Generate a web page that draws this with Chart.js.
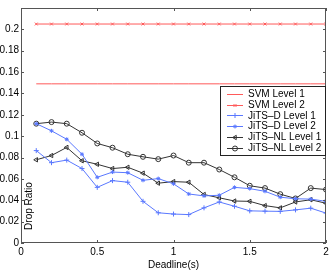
<!DOCTYPE html>
<html>
<head>
<meta charset="utf-8">
<script src="https://cdn.jsdelivr.net/npm/chart.js@4.4.1/dist/chart.umd.min.js"></script>
<style>
  html, body { margin: 0; padding: 0; background: #fff; }
  #wrap { width: 333px; height: 271px; position: relative; }
</style>
</head>
<body>
<div id="wrap"><canvas id="chart"></canvas></div>
<script>
// deadlines (s)
const deadlines = [0.1, 0.2, 0.3, 0.4, 0.5, 0.6, 0.7, 0.8, 0.9, 1.0, 1.1, 1.2, 1.3, 1.4, 1.5, 1.6, 1.7, 1.8, 1.9, 2.0];

// drop ratios
const svmLevel1 = [0.149, 0.149, 0.149, 0.149, 0.149, 0.149, 0.149, 0.149, 0.149, 0.149, 0.149, 0.149, 0.149, 0.149, 0.149, 0.149, 0.149, 0.149, 0.149, 0.149];
const svmLevel2 = [0.205, 0.205, 0.205, 0.205, 0.205, 0.205, 0.205, 0.205, 0.205, 0.205, 0.205, 0.205, 0.205, 0.205, 0.205, 0.205, 0.205, 0.205, 0.205, 0.205];
const jitsDLevel1 = [0.0865, 0.0752, 0.0776, 0.0697, 0.0521, 0.0584, 0.0569, 0.0390, 0.0283, 0.0271, 0.0266, 0.0329, 0.0384, 0.0344, 0.0301, 0.0298, 0.0296, 0.0310, 0.0326, 0.0280];
const jitsDLevel2 = [0.1117, 0.1050, 0.0971, 0.0831, 0.0615, 0.0664, 0.0658, 0.0587, 0.0603, 0.0554, 0.0459, 0.0441, 0.0447, 0.0521, 0.0509, 0.0484, 0.0429, 0.0414, 0.0411, 0.0390];
const jitsNLLevel1 = [0.0779, 0.0819, 0.0895, 0.0770, 0.0737, 0.0697, 0.0709, 0.0654, 0.0560, 0.0575, 0.0569, 0.0454, 0.0423, 0.0393, 0.0390, 0.0350, 0.0329, 0.0384, 0.0405, 0.0372];
const jitsNLLevel2 = [0.1117, 0.1132, 0.1117, 0.1032, 0.0932, 0.0892, 0.0831, 0.0807, 0.0785, 0.0819, 0.0752, 0.0752, 0.0688, 0.0615, 0.0536, 0.0514, 0.0457, 0.0417, 0.0514, 0.0500];

const xTicks = [0, 0.5, 1, 1.5, 2];
const seriesLabels = ["SVM Level 1", "SVM Level 2", "JiTS\u2013D Level 1", "JiTS\u2013D Level 2", "JiTS\u2013NL Level 1", "JiTS\u2013NL Level 2"];

const FONT = "'Liberation Sans', Arial, Helvetica, sans-serif";
const RED = "#ff5a5a";
const BLUE = "#5a78ff";
const DARK = "#333333";

function pts(values) {
  return deadlines.map((d, i) => ({ x: d, y: values[i] }));
}

function makeSet(label, values, color, style, radius, rotation) {
  return {
    label: label,
    data: pts(values),
    borderColor: color,
    backgroundColor: style === "star" ? color : "rgba(0,0,0,0)",
    borderWidth: 1,
    pointStyle: style || false,
    pointRadius: style ? radius : 0,
    pointRotation: rotation || 0,
    pointBorderColor: color,
    pointBorderWidth: 1,
    tension: 0,
    fill: false,
  };
}

const datasets = [
  makeSet(seriesLabels[0], svmLevel1, RED, null, 0),
  makeSet(seriesLabels[1], svmLevel2, RED, "crossRot", 2),
  makeSet(seriesLabels[2], jitsDLevel1, BLUE, "cross", 2.5),
  makeSet(seriesLabels[3], jitsDLevel2, BLUE, "star", 2),
  makeSet(seriesLabels[4], jitsNLLevel1, DARK, "triangle", 2.5, -90),
  makeSet(seriesLabels[5], jitsNLLevel2, DARK, "circle", 2.5),
];

// frame, inner ticks, y title and the boxed legend (MATLAB look)
const matlabLook = {
  id: "matlabLook",
  afterDatasetsDraw(chart) {
    const ctx = chart.ctx;
    const a = chart.chartArea;
    const xs = chart.scales.x;
    const ys = chart.scales.y;
    ctx.save();
    ctx.strokeStyle = "#555";
    ctx.lineWidth = 1;
    ctx.strokeRect(Math.round(a.left) + 0.5, Math.round(a.top) + 0.5, Math.round(a.right - a.left) - 1, Math.round(a.bottom - a.top) - 1);

    // inner tick marks
    ctx.beginPath();
    xTicks.forEach(v => {
      const px = Math.round(xs.getPixelForValue(v)) + 0.5;
      ctx.moveTo(px, a.bottom); ctx.lineTo(px, a.bottom - 3);
      ctx.moveTo(px, a.top); ctx.lineTo(px, a.top + 3);
    });
    ys.ticks.forEach(t => {
      const py = Math.round(ys.getPixelForValue(t.value)) + 0.5;
      ctx.moveTo(a.left, py); ctx.lineTo(a.left + 3, py);
      ctx.moveTo(a.right, py); ctx.lineTo(a.right - 3, py);
    });
    ctx.stroke();

    // y axis title, drawn inside the axes as in the source figure
    ctx.save();
    ctx.translate(a.left + 8, a.bottom - 37);
    ctx.rotate(-Math.PI / 2);
    ctx.fillStyle = "#000";
    ctx.font = "10px " + FONT;
    ctx.textAlign = "center";
    ctx.textBaseline = "middle";
    ctx.fillText("Drop Ratio", 0, 0);
    ctx.restore();

    // legend box
    const lx = 220, ly = 86, lw = 105, lh = 69;
    ctx.fillStyle = "#fff";
    ctx.fillRect(lx, ly, lw, lh);
    ctx.strokeStyle = "#222";
    ctx.strokeRect(lx + 0.5, ly + 0.5, lw, lh);
    ctx.font = "10px " + FONT;
    ctx.textBaseline = "middle";
    ctx.textAlign = "left";
    chart.data.datasets.forEach((ds, i) => {
      const cy = ly + 8 + i * 10.7;
      ctx.strokeStyle = ds.borderColor;
      ctx.fillStyle = ds.backgroundColor;
      ctx.lineWidth = 1;
      ctx.beginPath();
      ctx.moveTo(lx + 7, Math.round(cy) + 0.5);
      ctx.lineTo(lx + 23, Math.round(cy) + 0.5);
      ctx.stroke();
      if (ds.pointStyle) {
        Chart.helpers.drawPoint(ctx, {
          pointStyle: ds.pointStyle,
          radius: ds.pointRadius,
          rotation: ds.pointRotation,
          borderWidth: 1,
        }, lx + 15, Math.round(cy) + 0.5);
      }
      ctx.fillStyle = "#000";
      ctx.fillText(ds.label, lx + 28, cy + 0.5);
    });
    ctx.restore();
  },
};

const chart = new Chart(document.getElementById("chart"), {
  type: "line",
  data: { datasets: datasets },
  plugins: [matlabLook],
  options: {
    responsive: true,
    maintainAspectRatio: false,
    animation: false,
    layout: { padding: { left: 0, top: 2, right: 7, bottom: 0 } },
    plugins: {
      legend: { display: false },
      tooltip: { enabled: false },
    },
    scales: {
      x: {
        type: "linear",
        min: 0,
        max: 2,
        afterBuildTicks: s => { s.ticks = xTicks.map(v => ({ value: v })); },
        ticks: {
          color: "#000",
          font: { family: FONT, size: 10 },
          padding: 3,
          maxRotation: 0,
          callback: v => String(v),
        },
        grid: { display: false, drawTicks: false },
        border: { display: false },
        title: {
          display: true,
          text: "Deadline(s)",
          color: "#000",
          font: { family: FONT, size: 10 },
          padding: { top: 4, bottom: 0 },
        },
        afterFit: s => { s.height = 28; },
      },
      y: {
        min: 0,
        max: 0.22,
        ticks: {
          stepSize: 0.02,
          color: "#000",
          font: { family: FONT, size: 10 },
          padding: 2,
          callback: v => (v > 0.21 ? "" : String(Math.round(v * 100) / 100)),
        },
        grid: { display: false, drawTicks: false },
        border: { display: false },
        afterFit: s => { s.width = 21; },
      },
    },
  },
});
</script>
</body>
</html>
